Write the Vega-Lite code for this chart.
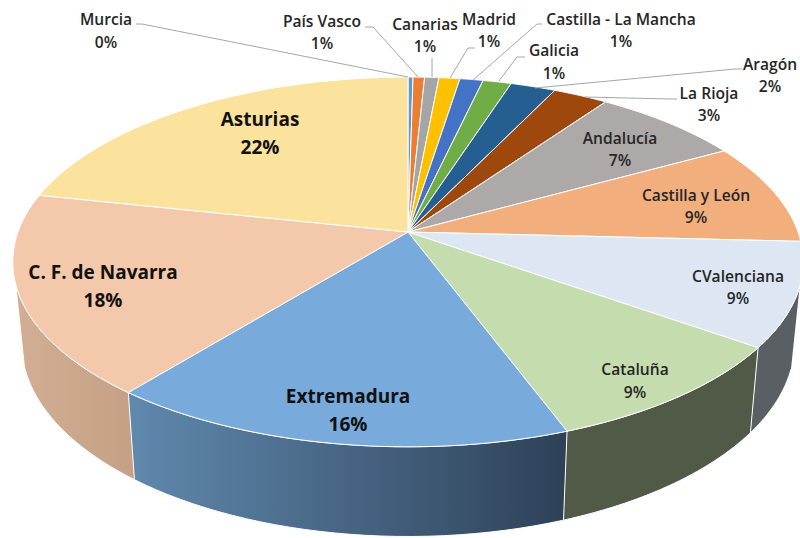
{
"$schema":"https://vega.github.io/schema/vega-lite/v6.json",
"width":800,"height":538,"padding":0,
"autosize":{"type":"none"},
"background":"white",
"config":{"view":{"stroke":null},"style":{"cell":{"stroke":null}}},
"datasets":{
"slices":[
{"ord":1,"name":"Murcia","value":0.24},
{"ord":2,"name":"País Vasco","value":0.55},
{"ord":3,"name":"Canarias","value":0.68},
{"ord":4,"name":"Madrid","value":1.0},
{"ord":5,"name":"Castilla - La Mancha","value":1.11},
{"ord":6,"name":"Galicia","value":1.36},
{"ord":7,"name":"Aragón","value":2.16},
{"ord":8,"name":"La Rioja","value":2.63},
{"ord":9,"name":"Andalucía","value":7.2},
{"ord":10,"name":"Castilla y León","value":8.89},
{"ord":11,"name":"CValenciana","value":9.07},
{"ord":12,"name":"Cataluña","value":9.49},
{"ord":13,"name":"Extremadura","value":16.4},
{"ord":14,"name":"C. F. de Navarra","value":17.6},
{"ord":15,"name":"Asturias","value":21.62}
],
"labels":[
{"name":"Murcia","pct":"0%","group":"outer","lx":106,"ny":20,"py":43},
{"name":"País Vasco","pct":"1%","group":"outer","lx":322,"ny":22,"py":44},
{"name":"Canarias","pct":"1%","group":"outer","lx":425,"ny":25,"py":47},
{"name":"Madrid","pct":"1%","group":"outer","lx":489,"ny":20,"py":42},
{"name":"Castilla - La Mancha","pct":"1%","group":"outer","lx":621,"ny":20,"py":42},
{"name":"Galicia","pct":"1%","group":"outer","lx":554,"ny":51,"py":74},
{"name":"Aragón","pct":"2%","group":"outer","lx":770,"ny":65,"py":87},
{"name":"La Rioja","pct":"3%","group":"outer","lx":709,"ny":94,"py":116},
{"name":"Andalucía","pct":"7%","group":"outer","lx":620,"ny":139,"py":161},
{"name":"Castilla y León","pct":"9%","group":"outer","lx":696,"ny":196,"py":218},
{"name":"CValenciana","pct":"9%","group":"outer","lx":738,"ny":277,"py":299},
{"name":"Cataluña","pct":"9%","group":"outer","lx":635,"ny":370,"py":393},
{"name":"Extremadura","pct":"16%","group":"big","lx":348,"ny":397,"py":425},
{"name":"C. F. de Navarra","pct":"18%","group":"big","lx":103,"ny":273,"py":301},
{"name":"Asturias","pct":"22%","group":"big","lx":260,"ny":120,"py":148}
],
"leaders":[
{"name":"Murcia","k":1,"lx":136,"ly":24},{"name":"Murcia","k":2,"lx":142,"ly":24},{"name":"Murcia","k":3,"lx":408,"ly":77},
{"name":"País Vasco","k":1,"lx":365,"ly":27},{"name":"País Vasco","k":2,"lx":373,"ly":27},{"name":"País Vasco","k":3,"lx":418,"ly":77},
{"name":"Canarias","k":1,"lx":432,"ly":58},{"name":"Canarias","k":2,"lx":432,"ly":77},
{"name":"Madrid","k":1,"lx":475,"ly":48},{"name":"Madrid","k":2,"lx":468,"ly":48},{"name":"Madrid","k":3,"lx":450,"ly":78},
{"name":"Castilla - La Mancha","k":1,"lx":542,"ly":24},{"name":"Castilla - La Mancha","k":2,"lx":537,"ly":24},{"name":"Castilla - La Mancha","k":3,"lx":473,"ly":80},
{"name":"Galicia","k":1,"lx":525,"ly":57},{"name":"Galicia","k":2,"lx":517,"ly":57},{"name":"Galicia","k":3,"lx":499,"ly":81},
{"name":"Aragón","k":1,"lx":742,"ly":69},{"name":"Aragón","k":2,"lx":735,"ly":69},{"name":"Aragón","k":3,"lx":535,"ly":88},
{"name":"La Rioja","k":1,"lx":677,"ly":99},{"name":"La Rioja","k":2,"lx":670,"ly":99},{"name":"La Rioja","k":3,"lx":585,"ly":97}
]
},
"data":{"name":"slices"},
"transform":[
{"window":[{"op":"sum","field":"value","as":"end"}],"sort":[{"field":"ord"}]},
{"calculate":"datum.end-datum.value","as":"start"}
],
"layer":[
{
"transform":[
{"calculate":"clamp(datum.start,29.7,70.5)","as":"a"},
{"calculate":"clamp(datum.end,29.7,70.5)","as":"b"},
{"filter":"datum.b>datum.a"},
{"calculate":"sequence(0,62)","as":"s"},
{"flatten":["s"]},
{"calculate":"datum.s<=30?datum.s/30:(61-datum.s)/30","as":"t"},
{"calculate":"(datum.a+datum.t*(datum.b-datum.a))/100*2*PI","as":"phi"},
{"calculate":"408+390*sin(datum.phi)/(1+0.162*cos(datum.phi))","as":"xt"},
{"calculate":"232-180*cos(datum.phi)/(1+0.162*cos(datum.phi))","as":"yt"},
{"calculate":"datum.s<=30?datum.xt:408+0.978*(datum.xt-408)","as":"px"},
{"calculate":"datum.s<=30?datum.yt:311.6+1.047*(datum.yt-232)","as":"py"}
],
"encoding":{
"x":{"field":"px","type":"quantitative","axis":null,"scale":{"domain":[0,800]}},
"y":{"field":"py","type":"quantitative","axis":null,"scale":{"domain":[538,0]}},
"order":{"field":"s"}
},
"layer":[
{"transform":[{"filter":"datum.name==='C. F. de Navarra'"}],
"mark":{"type":"line","stroke":"white","strokeWidth":1,"fill":{"gradient":"linear","x1":0,"x2":1,"y1":0,"y2":0,"stops":[{"offset":0,"color":"#d2ae94"},{"offset":1,"color":"#c5a084"}]}}},
{"transform":[{"filter":"datum.name==='Extremadura'"}],
"mark":{"type":"line","stroke":"white","strokeWidth":1,"fill":{"gradient":"linear","x1":0,"x2":1,"y1":0,"y2":0,"stops":[{"offset":0,"color":"#6089ae"},{"offset":1,"color":"#2e4158"}]}}},
{"transform":[{"filter":"datum.name==='Cataluña'"}],
"mark":{"type":"line","stroke":"white","strokeWidth":1,"fill":"#515a47"}},
{"transform":[{"filter":"datum.name==='CValenciana'"}],
"mark":{"type":"line","stroke":"white","strokeWidth":1,"fill":"#5a5f64"}}
]
},
{
"transform":[
{"calculate":"sequence(0,43)","as":"s"},
{"flatten":["s"]},
{"calculate":"(datum.start+clamp((datum.s-1)/40,0,1)*datum.value)/100*2*PI","as":"phi"},
{"calculate":"datum.s==0||datum.s==42?408:408+390*sin(datum.phi)/(1+0.162*cos(datum.phi))","as":"px"},
{"calculate":"datum.s==0||datum.s==42?232:232-180*cos(datum.phi)/(1+0.162*cos(datum.phi))","as":"py"}
],
"mark":{"type":"line","stroke":"white","strokeWidth":1},
"encoding":{
"x":{"field":"px","type":"quantitative","axis":null,"scale":{"domain":[0,800]}},
"y":{"field":"py","type":"quantitative","axis":null,"scale":{"domain":[538,0]}},
"order":{"field":"s"},
"fill":{"field":"name","type":"nominal","legend":null,"scale":{
"domain":["Murcia","País Vasco","Canarias","Madrid","Castilla - La Mancha","Galicia","Aragón","La Rioja","Andalucía","Castilla y León","CValenciana","Cataluña","Extremadura","C. F. de Navarra","Asturias"],
"range":["#5b9bd5","#ed7d31","#a5a5a5","#ffc000","#4472c4","#70ad47","#255e91","#9e480e","#aca9a8","#f3ae7e","#dce7f3","#c5dcae","#78aadc","#f4c8aa","#fbe29d"]}}
}
},
{
"data":{"name":"leaders"},
"mark":{"type":"line","stroke":"#a6a6a6","strokeWidth":1},
"encoding":{
"x":{"field":"lx","type":"quantitative","axis":null,"scale":{"domain":[0,800]}},
"y":{"field":"ly","type":"quantitative","axis":null,"scale":{"domain":[538,0]}},
"detail":{"field":"name"},
"order":{"field":"k"}
}
},
{
"data":{"name":"labels"},
"transform":[{"filter":"datum.group==='outer'"}],
"mark":{"type":"text","font":"Open Sans","fontWeight":600,"fontSize":15.6,"color":"#262626","align":"center","baseline":"middle"},
"encoding":{
"x":{"field":"lx","type":"quantitative","axis":null,"scale":{"domain":[0,800]}},
"y":{"field":"ny","type":"quantitative","axis":null,"scale":{"domain":[538,0]}},
"text":{"field":"name"}
}
},
{
"data":{"name":"labels"},
"transform":[{"filter":"datum.group==='outer'"}],
"mark":{"type":"text","font":"Open Sans","fontWeight":600,"fontSize":15.6,"color":"#262626","align":"center","baseline":"middle"},
"encoding":{
"x":{"field":"lx","type":"quantitative","axis":null,"scale":{"domain":[0,800]}},
"y":{"field":"py","type":"quantitative","axis":null,"scale":{"domain":[538,0]}},
"text":{"field":"pct"}
}
},
{
"data":{"name":"labels"},
"transform":[{"filter":"datum.group==='big'"}],
"mark":{"type":"text","font":"Open Sans","fontWeight":700,"fontSize":19,"color":"#111111","align":"center","baseline":"middle"},
"encoding":{
"x":{"field":"lx","type":"quantitative","axis":null,"scale":{"domain":[0,800]}},
"y":{"field":"ny","type":"quantitative","axis":null,"scale":{"domain":[538,0]}},
"text":{"field":"name"}
}
},
{
"data":{"name":"labels"},
"transform":[{"filter":"datum.group==='big'"}],
"mark":{"type":"text","font":"Open Sans","fontWeight":700,"fontSize":19,"color":"#111111","align":"center","baseline":"middle"},
"encoding":{
"x":{"field":"lx","type":"quantitative","axis":null,"scale":{"domain":[0,800]}},
"y":{"field":"py","type":"quantitative","axis":null,"scale":{"domain":[538,0]}},
"text":{"field":"pct"}
}
}
]
}
